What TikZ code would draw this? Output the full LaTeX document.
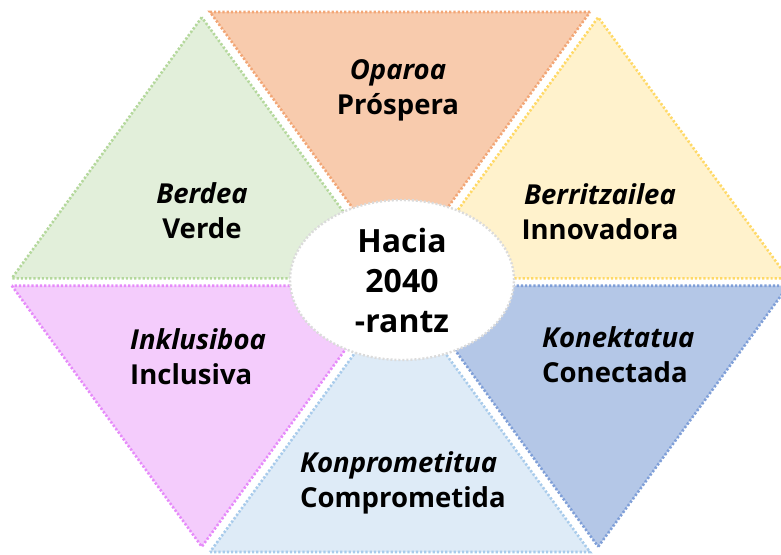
\documentclass[tikz,border=0pt]{standalone}
\usepackage{fontspec}
\setmainfont{Open Sans}
\usetikzlibrary{shapes.geometric}

\definecolor{orangefill}{HTML}{F8CBAD}
\definecolor{orangeline}{HTML}{F2A676}
\definecolor{greenfill}{HTML}{E2EFDA}
\definecolor{greenline}{HTML}{B4D89C}
\definecolor{yellowfill}{HTML}{FFF2CC}
\definecolor{yellowline}{HTML}{FFD966}
\definecolor{pinkfill}{HTML}{F4CCFC}
\definecolor{pinkline}{HTML}{E68AFA}
\definecolor{lbluefill}{HTML}{DEEBF7}
\definecolor{lblueline}{HTML}{A8CBEB}
\definecolor{bluefill}{HTML}{B4C7E7}
\definecolor{blueline}{HTML}{7F9FD8}

\begin{document}
\begin{tikzpicture}[x=1pt, y=-1pt,
	tri/.style={line width=2.6pt, dash pattern=on 2.2pt off 2pt},
	word/.style={font=\fontsize{27.5}{35}\selectfont\bfseries, align=center, inner sep=0pt},
	wordl/.style={word, align=left, anchor=west},
	centre/.style={ellipse, fill=white, draw=black!14, line width=2.4pt, dash pattern=on 2pt off 2pt, minimum width=224pt, minimum height=160pt, inner sep=0pt, font=\fontsize{32}{40}\selectfont\bfseries, align=center}
	]
	\useasboundingbox (0,0) rectangle (781,554);
	\clip (0,0) rectangle (781,554);

	% six triangles round the centre
	\filldraw [tri, fill=orangefill, draw=orangeline, shift={(0,-9)}] (590,21) -- (210,21) -- (400,282) -- cycle;
	\filldraw [tri, fill=greenfill, draw=greenline, shift={(-8.2,-3.7)}] (210,21) -- (20,282) -- (400,282) -- cycle;
	\filldraw [tri, fill=yellowfill, draw=yellowline, shift={(8.2,-3.7)}] (780,282) -- (590,21) -- (400,282) -- cycle;
	\filldraw [tri, fill=pinkfill, draw=pinkline, shift={(-8.2,3.7)}] (20,282) -- (210,543) -- (400,282) -- cycle;
	\filldraw [tri, fill=lbluefill, draw=lblueline, shift={(0,9)}] (210,543) -- (590,543) -- (400,282) -- cycle;
	\filldraw [tri, fill=bluefill, draw=blueline, shift={(8.2,3.7)}] (590,543) -- (780,282) -- (400,282) -- cycle;

	\node (hacia) [centre] at (402,280) {Hacia\\2040\\-rantz};

	\node (oparoa) [word] at (398,90) {{\itshape Oparoa}\\Próspera};
	\node (berdea) [word] at (202,211) {{\itshape Berdea}\\Verde};
	\node (berritzailea) [word] at (600,212) {{\itshape Berritzailea}\\Innovadora};
	\node (inklusiboa) [wordl] at (130,357) {{\itshape Inklusiboa}\\Inclusiva};
	\node (konektatua) [wordl] at (542,355) {{\itshape Konektatua}\\Conectada};
	\node (konprometitua) [wordl] at (300,483) {{\itshape Konprometitua}\\Comprometida};

\end{tikzpicture}
\end{document}
